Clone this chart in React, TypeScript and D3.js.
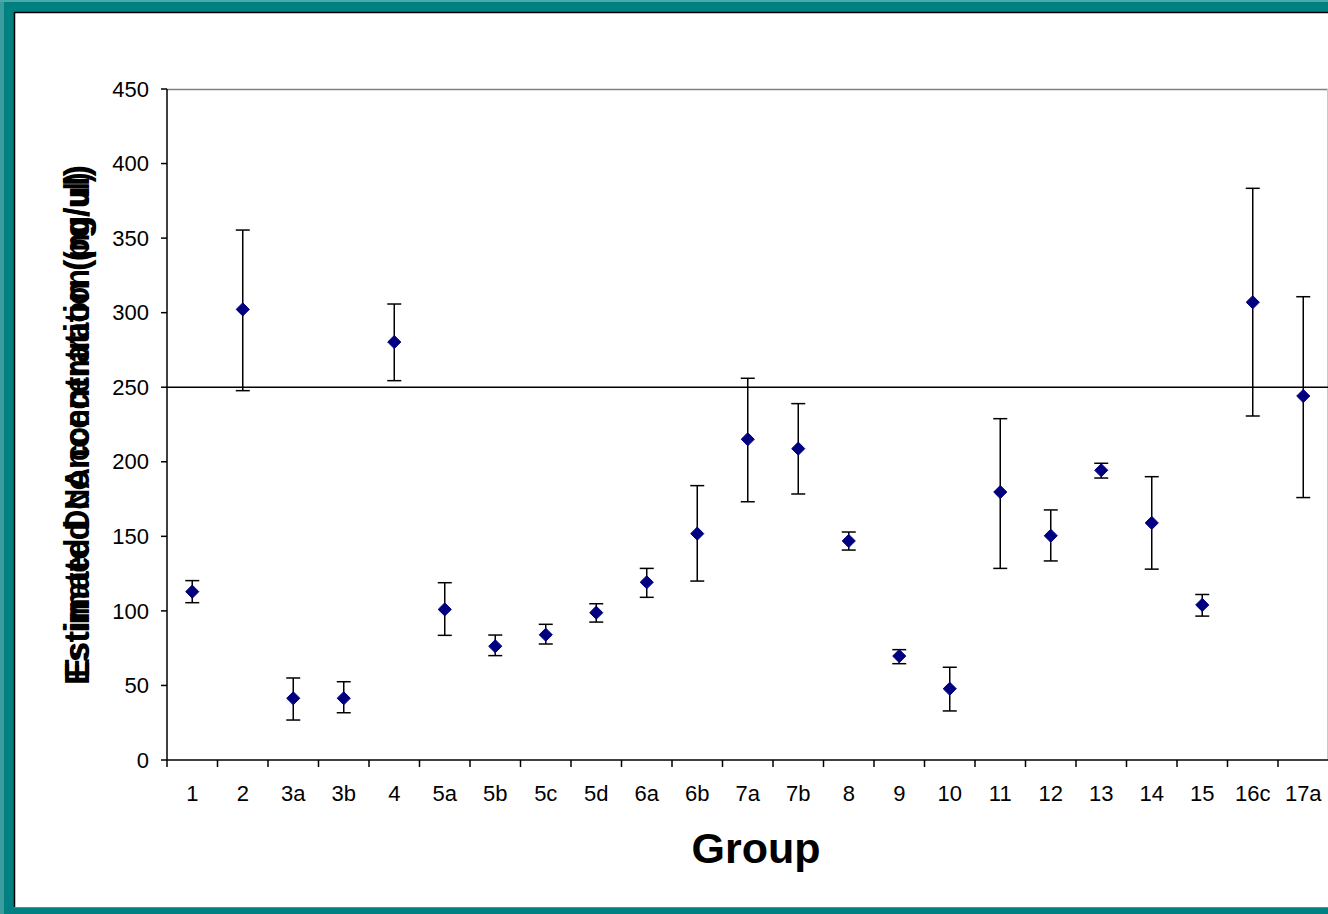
import React from "react";
import * as d3 from "d3";

const categories = ["1","2","3a","3b","4","5a","5b","5c","5d","6a","6b","7a","7b","8","9","10","11","12","13","14","15","16c","17a"];
const means = [112.9,302.2,41.4,41.4,280.3,101.0,76.3,84.0,98.8,119.2,151.8,215.1,208.8,146.9,69.7,47.8,179.7,150.4,194.3,159.0,104.0,307.0,244.1];
const upper = [120.3,355.4,55.0,52.5,305.8,118.9,83.8,91.0,104.8,128.5,184.0,256.0,239.0,152.9,74.0,62.2,228.9,167.7,199.0,190.0,111.0,383.4,310.7];
const lower = [105.5,247.7,26.8,31.7,254.4,83.6,70.0,77.8,92.5,109.1,120.0,173.2,178.4,140.8,64.6,32.9,128.5,133.5,189.1,128.0,96.5,230.7,176.0];
const yTicks = [0,50,100,150,200,250,300,350,400,450];
const refLine = 250;

export default function App() {
  const W = 1328, H = 914;
  const left = 167, right = 1328.5, top = 89, bottom = 760;
  const x = d3.scaleBand().domain(categories).range([left, right]).padding(0);
  const y = d3.scaleLinear().domain([0, 450]).range([bottom, top]);
  const diamond = d3.symbol().type(d3.symbolDiamond2 ?? d3.symbolDiamond).size(110)();
  const font = "Arial, 'Liberation Sans', sans-serif";
  const cap = 7;
  return (
    <div style={{ position: "absolute", left: 0, top: 0 }}>
      <svg width={W} height={H} style={{ display: "block" }}>
        <rect x={0} y={0} width={W} height={H} fill="#008080" />
        <rect x={0} y={0} width={4} height={H} fill="#3a9c9c" />
        <rect x={0} y={0} width={W} height={2} fill="#4daaaa" />
        <rect x={14} y={12} width={W - 14} height={895} fill="#ffffff" />
        <line x1={14.5} y1={12} x2={14.5} y2={907} stroke="#000" strokeWidth={1.5} />
        <line x1={14} y1={12.5} x2={W} y2={12.5} stroke="#000" strokeWidth={1.5} />
        <line x1={14} y1={907.5} x2={W} y2={907.5} stroke="#808080" strokeWidth={1} />
        {/* plot area border */}
        <line x1={left} y1={top + 0.5} x2={W} y2={top + 0.5} stroke="#808080" strokeWidth={1.5} />
        <line x1={W - 0.5} y1={top} x2={W - 0.5} y2={bottom} stroke="#c8c8c8" strokeWidth={1} />
        {/* reference line */}
        <line x1={left} y1={y(refLine)} x2={W} y2={y(refLine)} stroke="#000" strokeWidth={1.5} />
        {/* y axis */}
        <line x1={left} y1={top} x2={left} y2={bottom} stroke="#000" strokeWidth={1.5} />
        {yTicks.map((t) => (
          <g key={t}>
            <line x1={left - 6} y1={y(t)} x2={left} y2={y(t)} stroke="#000" strokeWidth={1.5} />
            <text x={149} y={y(t)} dy="0.35em" textAnchor="end" fontFamily={font} fontSize={22} fill="#000">{t}</text>
          </g>
        ))}
        {/* x axis */}
        <line x1={left} y1={bottom} x2={W} y2={bottom} stroke="#000" strokeWidth={1.5} />
        {categories.map((c, i) => (
          <g key={c}>
            <line x1={(x(c) as number)} y1={bottom} x2={(x(c) as number)} y2={bottom + 7} stroke="#000" strokeWidth={1.5} />
            <text x={(x(c) as number) + x.bandwidth() / 2} y={793} dy="0.35em" textAnchor="middle" fontFamily={font} fontSize={22} fill="#000">{c}</text>
          </g>
        ))}
        {/* error bars */}
        {categories.map((c, i) => {
          const cx = (x(c) as number) + x.bandwidth() / 2;
          return (
            <g key={"e" + c} stroke="#000" strokeWidth={1.5}>
              <line x1={cx} y1={y(upper[i])} x2={cx} y2={y(lower[i])} />
              <line x1={cx - cap} y1={y(upper[i])} x2={cx + cap} y2={y(upper[i])} />
              <line x1={cx - cap} y1={y(lower[i])} x2={cx + cap} y2={y(lower[i])} />
            </g>
          );
        })}
        {/* markers */}
        {categories.map((c, i) => {
          const cx = (x(c) as number) + x.bandwidth() / 2;
          return <path key={"m" + c} d={diamond as string} transform={`translate(${cx},${y(means[i])})`} fill="#000080" stroke="#000080" strokeWidth={1} />;
        })}
        {/* axis titles */}
        <text x={756} y={848} dy="0.35em" textAnchor="middle" fontFamily={font} fontSize={43} fontWeight="bold" fill="#000">Group</text>
        <g transform="translate(89,425) rotate(-90)">
          <text x={0} y={0} textAnchor="middle" fontFamily={font} fontSize={35} fontWeight="bold" fill="#000" textLength={520} lengthAdjust="spacingAndGlyphs">Estimated concentration (pg/ul)</text>
          <text x={0} y={0} textAnchor="middle" fontFamily={font} fontSize={35} fontWeight="bold" fill="#000" textLength={505} lengthAdjust="spacingAndGlyphs">Estimated DNA concentration (ng/ul)</text>
        </g>
      </svg>
    </div>
  );
}
